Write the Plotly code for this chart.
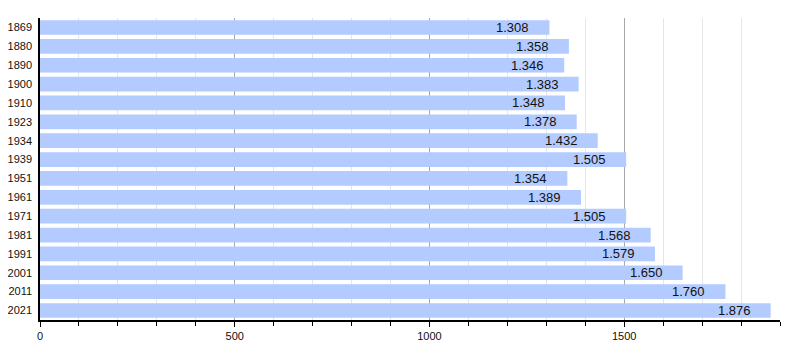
import plotly.graph_objects as go

years = ["1869", "1880", "1890", "1900", "1910", "1923", "1934", "1939",
         "1951", "1961", "1971", "1981", "1991", "2001", "2011", "2021"]
population = [1308, 1358, 1346, 1383, 1348, 1378, 1432, 1505,
              1354, 1389, 1505, 1568, 1579, 1650, 1760, 1876]
x_ticks = [0, 500, 1000, 1500]

labels = [f"{v:,}".replace(",", ".") for v in population]

fig = go.Figure(go.Bar(
    x=population, y=years, orientation="h",
    marker=dict(color="#b3cbff", line=dict(width=0)),
    hoverinfo="skip",
))

for i, (v, lab) in enumerate(zip(population, labels)):
    fig.add_annotation(
        x=v, y=i, text=lab, showarrow=False,
        xanchor="right", yanchor="middle", xshift=-18,
        font=dict(color="#111", size=13, family="Liberation Sans, Arial"),
    )

# page body has an 8px default margin, so the figure is 792x352
fig.update_layout(
    width=792, height=352,
    margin=dict(l=32, r=20, t=10, b=40),
    paper_bgcolor="white", plot_bgcolor="white",
    bargap=0.22, showlegend=False,
    font=dict(family="Liberation Sans, Arial", color="#111"),
    xaxis=dict(
        range=[0, 1900], tickvals=x_ticks, ticktext=[str(t) for t in x_ticks],
        showgrid=True, gridcolor="#a8a8a8", gridwidth=1,
        ticks="outside", ticklen=5, tickcolor="black",
        showline=True, linecolor="black", linewidth=1.5,
        tickfont=dict(size=11),
        zeroline=False, automargin=False,
        minor=dict(dtick=100, tick0=0, showgrid=True, gridcolor="#e6e6e6",
                   ticks="outside", ticklen=4, tickcolor="black"),
    ),
    yaxis=dict(
        type="category", autorange="reversed",
        showline=True, linecolor="black", linewidth=1.5,
        showgrid=False, ticks="", tickfont=dict(size=11),
        ticklabelstandoff=4, automargin=False,
    ),
)

fig.write_html("out.html")
